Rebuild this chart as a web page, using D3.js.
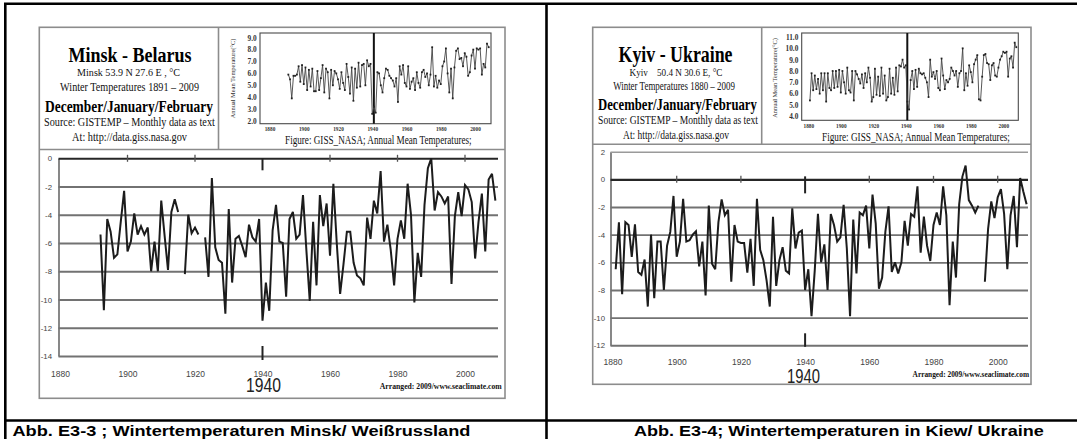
<!DOCTYPE html>
<html><head><meta charset="utf-8">
<script src="https://cdn.jsdelivr.net/npm/d3@7"></script>
<style>html,body{margin:0;padding:0;background:#fff}svg{display:block}</style>
</head><body>
<svg id="c" width="1077" height="439"></svg>
<script>
// ---------------- DATA ----------------
const xTicks = [1880, 1900, 1920, 1940, 1960, 1980, 2000];
const markYear = 1940;
const minskYTicks = [0, -2, -4, -6, -8, -10, -12, -14];
const kyivYTicks = [2, 0, -2, -4, -6, -8, -10, -12];
const minskInsetYTicks = [9, 8, 7, 6, 5, 4, 3, 2];
const kyivInsetYTicks = [11, 10, 9, 8, 7, 6, 5, 4];

// Winter (Dec/Jan/Feb) mean temperatures, °C
const minskStart = 1892;
const minskDJF = [
  -5.4,-10.75,-4.3,-5.2,-7.05,-6.8,-4.5,-2.3,
  -6.6,-5.9,-3.9,-5.4,-4.8,-5.4,-4.9,-8.0,-5.9,-8.0,
  -3.0,-5.5,-7.9,-3.8,-2.9,-3.8,null,-8.2,-4.0,-5.3,
  -4.9,-5.4,null,-5.6,-8.4,-1.4,-6.3,-7.2,-7.4,-11.0,
  -3.6,-8.8,-5.7,-5.5,-6.2,-7.0,-4.7,-5.6,-5.9,-4.3,
  -11.5,-8.8,-10.8,-5.1,-3.3,-5.9,-6.0,-9.8,-4.3,-3.8,
  -5.7,-5.4,-2.6,-6.5,-10.1,-4.5,-9.0,-2.6,-4.8,-3.2,
  -6.9,-1.8,-6.0,-9.6,-7.5,-5.2,-5.2,-7.4,-8.3,-8.5,
  -9.0,-4.2,-5.7,-3.0,-3.9,-0.9,-5.9,-4.7,-6.5,-9.0,
  -5.7,-4.4,-5.7,-1.8,-4.0,-10.2,-6.7,-8.4,-3.3,-0.7,
  0.0,-3.7,-2.4,-2.7,-3.2,-2.7,-8.9,-4.1,-2.4,-4.1,
  -1.9,-2.2,-3.1,-7.1,-4.5,-2.5,-6.6,-1.5,-1.1,-3.0
];
const kyivStart = 1881;
const kyivDJF = [
  -6.5,-3.1,-8.3,-3.1,-3.3,-5.6,-3.25,-6.7,-6.9,
  -5.8,-9.2,-4.0,-8.6,-4.5,-4.5,-8.0,-4.8,-3.8,-1.2,
  -5.6,-4.5,-1.4,-4.5,-4.4,-4.0,-3.75,-6.3,-4.5,-8.4,
  -1.9,-6.1,-6.5,-3.1,-1.45,-2.6,-2.2,-7.4,-3.3,-4.5,
  -4.6,-4.6,-6.75,-4.3,-7.7,-1.4,-5.1,-5.85,-7.3,-9.2,
  -2.7,-7.7,-5.85,-4.9,-6.6,-6.8,-2.1,-5.0,-3.85,-3.7,
  -8.0,-6.5,-9.9,-6.6,-2.5,-6.0,-4.7,-8.0,-2.5,-3.3,
  -4.5,-4.2,-1.85,-5.0,-9.9,-2.9,-6.8,-2.4,-2.6,-1.9,
  -5.0,-1.1,-3.2,-7.9,-7.1,-3.8,-1.95,-6.7,-6.0,-6.8,
  -6.0,-3.0,-4.8,-2.5,-2.7,-0.5,-5.3,-2.7,-4.8,-5.9,
  -3.3,-2.4,-3.3,-0.5,-2.6,-9.1,-4.5,-7.1,-1.8,0.2,
  1.0,-1.5,-1.9,-2.4,-1.9,null,-7.4,-3.6,-1.6,-2.8,
  -1.3,-0.7,-2.5,-6.5,-2.6,-1.2,-4.9,0.1,-0.9,-1.8
];

// Inset: annual mean temperatures (GISS), °C
const minskInsetStart = 1891;
const minskAnnual = [
  5.9,5.5,3.9,5.8,5.8,5.9,6.6,5.3,6.7,
  5.1,6.5,4.6,6.3,4.9,6.4,4.5,4.5,6.2,4.6,
  5.6,6.7,4.4,6.4,6.1,3.9,6.3,5.0,6.2,6.0,
  5.5,4.7,6.1,5.2,4.6,6.8,5.7,4.3,6.5,3.7,
  6.4,4.8,6.9,4.9,6.7,6.8,5.0,7.1,6.6,6.8,
  2.6,3.2,2.7,6.1,6.0,5.0,4.4,5.6,6.4,6.3,
  5.8,5.6,5.4,4.9,5.6,3.6,6.6,5.9,6.7,5.2,
  4.9,6.6,4.7,5.3,5.6,4.6,6.1,5.2,4.8,6.1,
  6.3,5.7,6.0,5.0,5.9,8.2,4.9,5.8,4.8,5.4,
  5.1,6.6,7.0,8.1,6.0,4.4,6.4,3.9,6.5,7.9,
  8.1,7.2,7.3,6.6,7.7,7.4,5.8,6.1,7.5,8.0,
  6.4,8.1,8.0,8.1,5.9,6.8,6.5,8.5,8.2
];
const kyivInsetStart = 1881;
const kyivAnnual = [
  5.4,7.8,6.3,7.6,6.4,7.3,6.0,7.8,6.3,
  7.8,5.3,7.8,6.5,6.3,8.0,6.5,8.0,6.6,8.1,
  6.1,8.0,7.0,6.0,8.3,6.3,6.1,8.0,5.4,8.0,
  7.7,7.3,6.9,7.7,6.5,7.8,7.0,8.3,7.4,5.3,
  5.7,8.2,5.9,7.5,5.8,8.3,6.0,7.6,5.4,5.7,
  8.2,6.0,7.4,5.9,8.3,6.2,8.5,8.4,9.0,8.3,
  8.5,5.3,4.6,7.2,8.0,6.4,8.1,6.6,8.2,7.8,
  7.7,7.8,7.4,7.0,5.7,9.0,7.5,7.9,7.3,8.0,
  6.5,6.3,9.1,7.6,6.4,7.2,7.0,7.3,8.3,8.0,
  7.6,8.0,6.6,7.8,8.0,10.0,6.3,7.8,6.7,8.5,
  7.9,7.0,8.6,9.0,9.4,5.5,5.4,7.5,9.4,9.5,
  8.7,8.6,7.2,8.5,8.7,7.6,7.5,8.3,9.0,9.3,
  9.7,9.6,9.7,7.5,9.1,9.3,8.3,10.5,10.1
];

// ---------------- DRAWING ----------------
const SERIF = "'Liberation Serif','Times New Roman',serif";
const SANS = "'Liberation Sans',Arial,sans-serif";
const NARROW = "'Liberation Sans Narrow','Liberation Sans',Arial,sans-serif";
const svg = d3.select('#c');

// Text whose width is fitted to `len` by resizing the font, keeping its height with a vertical stretch.
function T(p, o) {
  const g = p.append('g');
  const t = g.append('text').attr('x', 0).attr('y', 0)
    .attr('font-family', o.family || SERIF).attr('font-size', o.size)
    .attr('font-weight', o.weight || 'normal').attr('fill', o.fill || '#111')
    .attr('text-anchor', 'start').text(o.text);
  let w = t.node().getComputedTextLength();
  let sy = 1;
  if (o.len && w > 0) {
    const k = o.len / w;
    sy = 1 / k;
    t.attr('font-size', o.size * k);
    w = t.node().getComputedTextLength();
  }
  const anchor = o.anchor || 'start';
  let x0 = o.x;
  if (anchor === 'middle') x0 -= w / 2; else if (anchor === 'end') x0 -= w;
  g.attr('transform', `translate(${x0},${o.y}) scale(1,${sy})`);
  return g;
}

// outer black frame
const frame = svg.append('g').attr('stroke', '#000').attr('stroke-width', 2.6);
frame.append('line').attr('x1', 4).attr('x2', 1077).attr('y1', 3.7).attr('y2', 3.7);
frame.append('line').attr('x1', 5.3).attr('x2', 5.3).attr('y1', 3.7).attr('y2', 439);
frame.append('line').attr('x1', 546.5).attr('x2', 546.5).attr('y1', 3.7).attr('y2', 439);
frame.append('line').attr('x1', 5).attr('x2', 1077).attr('y1', 420.5).attr('y2', 420.5);

// captions
T(svg, {x: 12.5, y: 436, text: 'Abb. E3-3 ;  Wintertemperaturen  Minsk/ Weißrussland', size: 14, weight: 'bold', family: SANS, len: 458, fill: '#000'});
T(svg, {x: 634, y: 436, text: 'Abb. E3-4;  Wintertemperaturen in Kiew/ Ukraine', size: 14, weight: 'bold', family: SANS, len: 410, fill: '#000'});

function panelFrame(c) {
  const g = svg.append('g').attr('fill', 'none').attr('stroke', '#8c8c8c').attr('stroke-width', 1.6);
  g.append('rect').attr('x', c.l).attr('y', c.t).attr('width', c.r - c.l).attr('height', c.b - c.t);
  g.append('line').attr('x1', c.l).attr('x2', c.r).attr('y1', c.hb).attr('y2', c.hb);
  g.append('line').attr('x1', c.hd).attr('x2', c.hd).attr('y1', c.t).attr('y2', c.hb);
}

function header(c) {
  const g = svg.append('g');
  T(g, {x: c.cx[0], y: 62.2, text: c.title, size: c.titleSize, weight: 'bold', anchor: 'middle', len: c.titleLen, fill: '#000'});
  T(g, {x: c.cx[1], y: 75.5, text: c.coord, size: 11, anchor: 'middle', len: c.coordLen});
  T(g, {x: c.cx[2], y: c.ys[0], text: c.winter, size: 11.5, anchor: 'middle', len: c.winterLen});
  T(g, {x: c.cx[3], y: c.ys[1], text: 'December/January/February', size: c.djfSize, weight: 'bold', anchor: 'middle', len: c.djfLen, fill: '#000'});
  T(g, {x: c.cx[4], y: c.ys[2], text: 'Source: GISTEMP – Monthly data as text', size: 11.5, anchor: 'middle', len: c.srcLen});
  T(g, {x: c.cx[5], y: c.ys[3], text: 'At: http://data.giss.nasa.gov', size: 11.5, anchor: 'middle', len: c.atLen});
}

function drawInset(c, values, start, yTicks) {
  const g = svg.append('g');
  const x = d3.scaleLinear().domain([1880, 2000]).range([c.x1880, c.x2000]);
  const y = d3.scaleLinear().domain([yTicks[0], yTicks[yTicks.length - 1]]).range([c.yTopTick, c.yBotTick]);
  g.append('rect').attr('x', c.box[0]).attr('y', c.box[1]).attr('width', c.box[2] - c.box[0]).attr('height', c.box[3] - c.box[1])
    .attr('fill', 'none').attr('stroke', '#4a4a4a').attr('stroke-width', 1.1);
  const ay = g.append('g').attr('transform', `translate(${c.labelRight},0)`)
    .call(d3.axisLeft(y).tickValues(yTicks).tickSize(0).tickPadding(0).tickFormat(d3.format('.1f')));
  ay.select('.domain').remove();
  ay.selectAll('text').attr('font-family', SERIF).attr('font-weight', 'bold').attr('font-size', 7.3).attr('fill', '#333');
  const ax = g.append('g').attr('transform', `translate(0,${c.xLabelY})`)
    .call(d3.axisBottom(x).tickValues(xTicks).tickSize(0).tickFormat(d => String(d)));
  ax.select('.domain').remove();
  ax.selectAll('text').attr('y', 0).attr('dy', 0).attr('font-family', SERIF).attr('font-weight', 'bold')
    .attr('font-size', 5.3).attr('fill', '#333').attr('transform', 'scale(1,1.3)');
  // vertical 1940 marker
  g.append('line').attr('x1', x(markYear) + c.markOff).attr('x2', x(markYear) + c.markOff)
    .attr('y1', c.box[1]).attr('y2', c.box[3]).attr('stroke', '#111').attr('stroke-width', 2);
  const pts = values.map((v, i) => ({yr: start + i, v}));
  g.append('path').datum(pts).attr('fill', 'none').attr('stroke', '#444').attr('stroke-width', 0.9)
    .attr('d', d3.line().defined(d => d.v != null).x(d => x(d.yr)).y(d => y(d.v)));
  g.selectAll('rect.m').data(pts.filter(d => d.v != null)).join('rect').attr('class', 'm')
    .attr('x', d => x(d.yr) - 0.9).attr('y', d => y(d.v) - 0.9).attr('width', 1.8).attr('height', 1.8).attr('fill', '#222');
  // y title (rotated)
  g.append('text').attr('transform', `translate(${c.ytx},${c.yty}) rotate(-90)`)
    .attr('text-anchor', 'middle').attr('font-family', SERIF).attr('font-size', 6.4).attr('fill', '#333')
    .text('Annual Mean Temperature(°C)');
  T(g, {x: c.capX, y: c.capY, text: 'Figure: GISS_NASA; Annual Mean Temperatures;', size: 11.5, anchor: 'middle', len: c.capLen});
}

function drawMain(c, values, start, yTicks) {
  const g = svg.append('g');
  const x = d3.scaleLinear().domain([1880, 2010]).range([c.x0, c.x1]);
  const y = d3.scaleLinear().domain([yTicks[yTicks.length - 1], yTicks[0]]).range([c.yBot, c.yTop]);
  const ay = g.append('g').attr('transform', `translate(${c.gx0},0)`)
    .call(d3.axisLeft(y).tickValues(yTicks).tickSize(-(c.gx1 - c.gx0)).tickSizeOuter(0).tickPadding(c.pad).tickFormat(d => String(d)));
  ay.select('.domain').attr('stroke', '#6a6a6a').attr('stroke-width', 1.6);
  ay.selectAll('.tick line')
    .attr('stroke', d => d === 0 ? '#262626' : (d > 0 ? '#9a9a9a' : '#727272'))
    .attr('stroke-width', d => d === 0 ? 2.1 : (d > 0 ? 1.4 : 1.9));
  ay.selectAll('.tick text').attr('font-family', NARROW).attr('font-size', 7.8).attr('fill', '#444');
  const ax = g.append('g').attr('transform', `translate(0,${c.labelY})`)
    .call(d3.axisBottom(x).tickValues(xTicks).tickSize(0).tickFormat(d => String(d)));
  ax.select('.domain').remove();
  ax.selectAll('text').attr('y', 0).attr('dy', 0).attr('font-family', NARROW).attr('font-size', 8.5).attr('fill', '#444');
  // small ticks on zero line
  g.selectAll('line.zt').data(xTicks.filter(d => d !== 1880 && d !== markYear)).join('line').attr('class', 'zt')
    .attr('x1', d => x(d)).attr('x2', d => x(d)).attr('y1', y(0) - 3.5).attr('y2', y(0) + 3.5)
    .attr('stroke', '#555').attr('stroke-width', 1.3);
  // 1940 marks
  g.append('line').attr('x1', x(markYear)).attr('x2', x(markYear)).attr('y1', y(0) + c.mt[0]).attr('y2', y(0) + c.mt[1])
    .attr('stroke', '#222').attr('stroke-width', 2);
  const yMinV = yTicks[yTicks.length - 1];
  g.append('line').attr('x1', x(markYear)).attr('x2', x(markYear)).attr('y1', y(yMinV) + c.mb[0]).attr('y2', y(yMinV) + c.mb[1])
    .attr('stroke', '#222').attr('stroke-width', 2);
  // data line
  const pts = values.map((v, i) => ({yr: start + i, v}));
  g.append('path').datum(pts).attr('fill', 'none').attr('stroke', '#1c1c1c').attr('stroke-width', 2)
    .attr('stroke-linejoin', 'miter').attr('stroke-miterlimit', 3)
    .attr('d', d3.line().defined(d => d.v != null).x(d => x(d.yr)).y(d => y(d.v)));
  // big 1940
  T(g, {x: x(markYear) + c.bigOff, y: c.bigY, text: String(markYear), size: c.bigSize, family: NARROW, anchor: 'middle', len: c.bigLen, fill: '#222'});
  T(g, {x: c.arrR, y: c.arrY, text: 'Arranged: 2009/www.seaclimate.com', size: 8.3, weight: 'bold', anchor: 'end', len: c.arrLen, fill: '#111'});
}

// ---- Minsk panel ----
panelFrame({l: 39.3, t: 27.3, r: 505, b: 398.3, hb: 149.5, hd: 218.5});
header({cx: [130, 128.5, 129.5, 129, 129.5, 129.5], ys: [91, 111.5, 126, 140.5],
  title: 'Minsk - Belarus', titleSize: 22, titleLen: 123,
  coord: 'Minsk 53.9 N 27.6 E , °C', coordLen: 103,
  winter: 'Winter Temperatures 1891 – 2009', winterLen: 139,
  djfSize: 17, djfLen: 168, srcLen: 171, atLen: 115});
drawInset({x1880: 269.5, x2000: 475, yTopTick: 37.7, yBotTick: 121, box: [260, 33, 491, 123.7],
  labelRight: 256.7, xLabelY: 131, markOff: 1.6, ytx: 235, yty: 78.5,
  capX: 378.5, capY: 143.5, capLen: 187}, minskAnnual, minskInsetStart, minskInsetYTicks);
drawMain({x0: 60, x1: 498.75, gx0: 58.5, gx1: 498, yTop: 158.3, yBot: 356, pad: 6.5, labelY: 377,
  mt: [0, 12], mb: [-10, 4], bigOff: 1, bigY: 392, bigSize: 21, bigLen: 35,
  arrR: 501.7, arrY: 388.5, arrLen: 122}, minskDJF, minskStart, minskYTicks);

// ---- Kyiv panel ----
panelFrame({l: 592.7, t: 27.3, r: 1031, b: 384.3, hb: 144.3, hd: 761.7});
header({cx: [675.5, 676, 674, 677.5, 678, 676], ys: [90.4, 110, 124, 139],
  title: 'Kyiv - Ukraine', titleSize: 23, titleLen: 114,
  coord: 'Kyiv\u00a0\u00a0\u00a0 50.4 N 30.6 E, °C', coordLen: 93,
  winter: 'Winter Temperatures 1880 – 2009', winterLen: 122,
  djfSize: 16.5, djfLen: 159, srcLen: 160, atLen: 106});
drawInset({x1880: 808.3, x2000: 1003.3, yTopTick: 37, yBotTick: 116.3, box: [801.7, 33, 1018.3, 120.3],
  labelRight: 798.3, xLabelY: 127.8, markOff: 1.5, ytx: 777, yty: 78,
  capX: 916, capY: 140.5, capLen: 188}, kyivAnnual, kyivInsetStart, kyivInsetYTicks);
drawMain({x0: 612.5, x1: 1029.8, gx0: 610.5, gx1: 1028, yTop: 151.7, yBot: 345.3, pad: 5.5, labelY: 364.5,
  mt: [-3, 14], mb: [-12, 1.5], bigOff: -1.5, bigY: 382.5, bigSize: 20, bigLen: 33,
  arrR: 1029.3, arrY: 377, arrLen: 116.7}, kyivDJF, kyivStart, kyivYTicks);
</script>
</body></html>
